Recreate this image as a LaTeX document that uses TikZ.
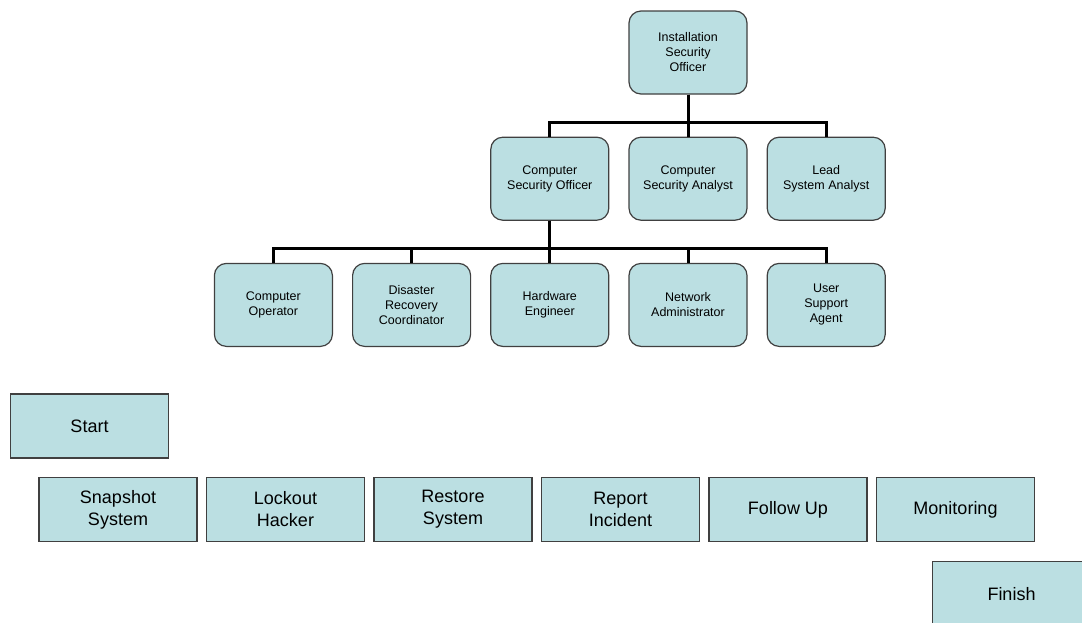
\documentclass[tikz,border=0pt]{standalone}
\usepackage{fontspec}
\setmainfont{Liberation Sans}
\usetikzlibrary{positioning}
\definecolor{boxfill}{RGB}{187,223,226}
\definecolor{boxline}{RGB}{64,64,64}

\begin{document}
\begin{tikzpicture}[x=1pt,y=1pt]

	\tikzset{
		role/.style={
				rectangle, rounded corners=12pt, draw=boxline, fill=boxfill, line width=1.2pt, inner sep=2pt, minimum width=118pt, minimum height=83pt, align=center, font=\fontsize{12.5}{15}\selectfont
			},
		stage/.style={
				rectangle, draw=boxline, fill=boxfill, line width=1.2pt, inner sep=2pt, minimum width=158pt, minimum height=64pt, align=center, font=\fontsize{18}{22}\selectfont
			},
		link/.style={
				black, line width=3pt
			},
	}
	\useasboundingbox (0,0) rectangle (1082,-622);

	% org chart
	\node[role](iso) at (688,-52.5){Installation\\Security\\Officer};
	\node[role, below=42pt of iso](csa){Computer\\Security Analyst};
	\node[role, left=19pt of csa](cso){Computer\\Security Officer};
	\node[role, right=19pt of csa](lsa){Lead\\System Analyst};

	\node[role, below=42pt of cso](hwe){Hardware\\Engineer};
	\node[role, left=19pt of hwe](drc){Disaster\\Recovery\\Coordinator};
	\node[role, left=19pt of drc](cop){Computer\\Operator};
	\node[role, right=19pt of hwe](nad){Network\\Administrator};
	\node[role, right=19pt of nad](usa){User\\Support\\Agent};

	\draw[link] (iso.south) -- (csa.north);
	\foreach \n in {cso, lsa}
		\draw[link] (iso.south) -- ++(0,-28) -| (\n.north);
	\draw[link] (cso.south) -- (hwe.north);
	\foreach \n in {cop, drc, nad, usa}
		\draw[link] (cso.south) -- ++(0,-28) -| (\n.north);

	% steps
	\node[stage](start) at (89.5,-426){Start};
	\node[stage](snap) at (118,-509.5){Snapshot\\System};
	\node[stage, right=8.3pt of snap](lock){Lockout\\Hacker};
	\node[stage, right=8.3pt of lock](rest){Restore\\System};
	\node[stage, right=8.3pt of rest](rep){Report\\Incident};
	\node[stage, right=8.3pt of rep](fol){Follow Up};
	\node[stage, right=8.3pt of fol](mon){Monitoring};
	\node[stage, below=19pt of mon, xshift=56pt](fin){Finish};

\end{tikzpicture}
\end{document}
